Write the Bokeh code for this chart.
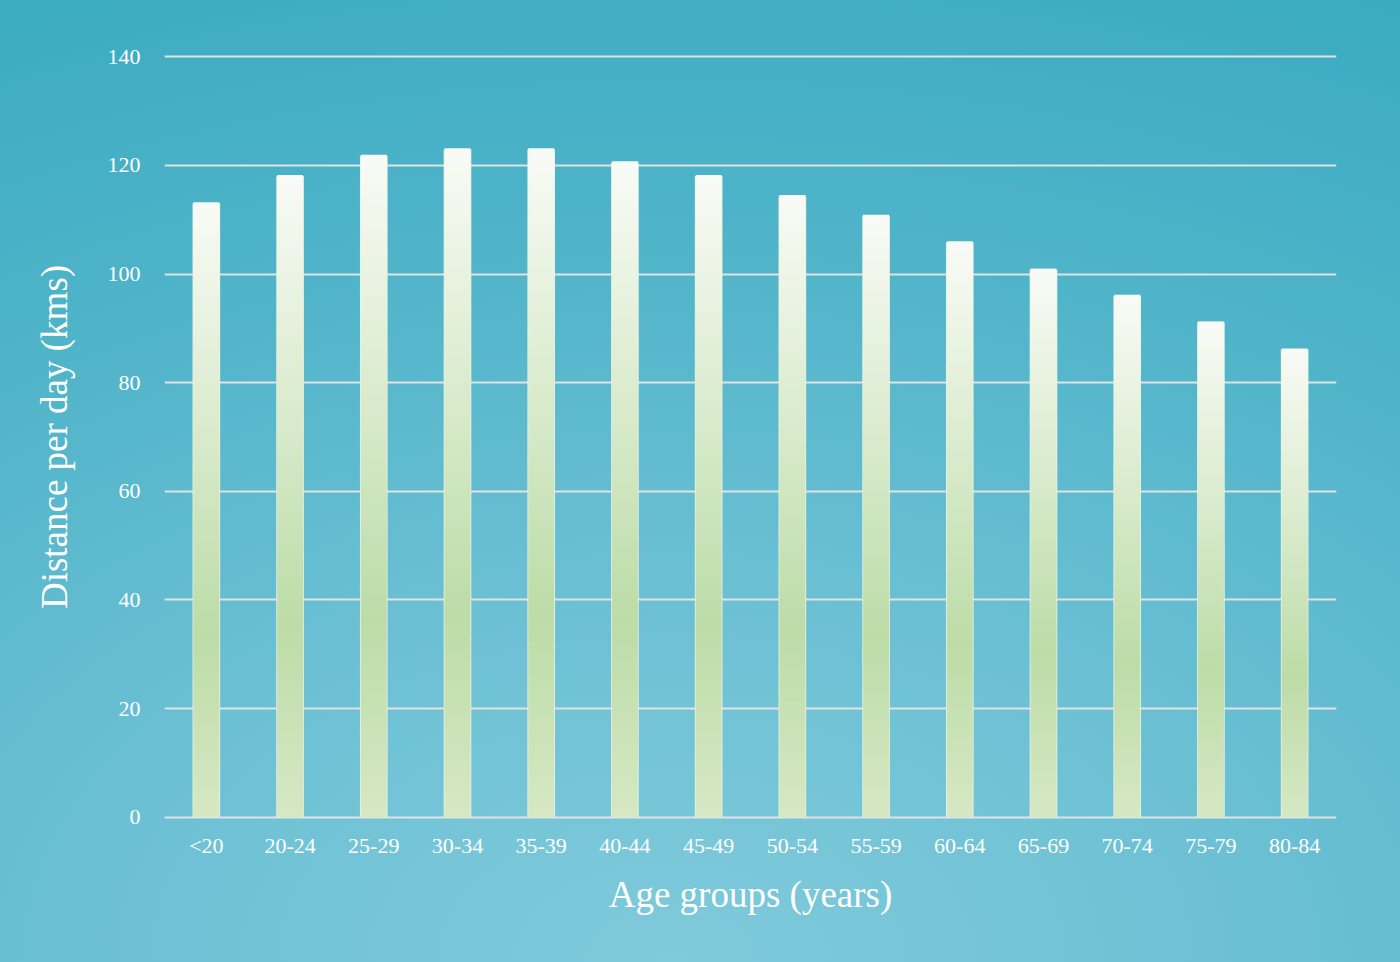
from bokeh.plotting import figure
from bokeh.embed import file_html
from bokeh.resources import INLINE
from bokeh.models import ColumnDataSource, FixedTicker

categories = ["<20", "20-24", "25-29", "30-34", "35-39", "40-44", "45-49",
              "50-54", "55-59", "60-64", "65-69", "70-74", "75-79", "80-84"]
distance = [113, 118, 121.7, 122.9, 122.9, 120.5, 118, 114.3, 110.7, 105.8, 100.8, 96, 91.1, 86.1]
y_ticks = [0, 20, 40, 60, 80, 100, 120, 140]

FONT = "Liberation Serif"

p = figure(x_range=categories, y_range=(-0.4, 140.4), width=1400, height=962,
           output_backend="svg", toolbar_location=None,
           min_border_left=164, min_border_right=64, min_border_top=54, min_border_bottom=143)
p.styles = {"background": "radial-gradient(ellipse 120% 110% at 48% 100%, #7fcadb 0%, #6cc0d4 35%, #52b5ca 65%, #3aabc1 100%)"}
p.background_fill_color = None
p.border_fill_color = None
p.outline_line_color = None

# gradient stops (fraction of bar height -> colour)
stops_f = [0.0, 0.3, 1.0]
stops_c = [(0xd6, 0xe8, 0xc4), (0xbc, 0xdc, 0xa7), (0xf9, 0xfb, 0xf6)]

def interp(f):
    for i in range(len(stops_f) - 1):
        if stops_f[i] <= f <= stops_f[i + 1]:
            t = (f - stops_f[i]) / (stops_f[i + 1] - stops_f[i])
            c = [int(round(a + (b - a) * t)) for a, b in zip(stops_c[i], stops_c[i + 1])]
            return "#%02x%02x%02x" % tuple(c)
    return "#%02x%02x%02x" % stops_c[-1]

N = 80
xs, bots, tops, cols = [], [], [], []
for cat, v in zip(categories, distance):
    for k in range(N):
        f0, f1 = k / N, (k + 1) / N
        xs.append(cat)
        bots.append(v * f0)
        tops.append(v * f1 + v * 0.002)
        cols.append(interp((f0 + f1) / 2))

p.ygrid.grid_line_color = "#e2e2e2"
p.ygrid.grid_line_width = 2
p.ygrid.level = "underlay"
p.xgrid.grid_line_color = None

p.vbar(x=categories, top=distance, width=0.33, fill_color="#e9f1e3", line_color=None)
src = ColumnDataSource(dict(x=xs, bottom=bots, top=tops, color=cols))
p.vbar(x="x", bottom="bottom", top="top", width=0.31, fill_color="color", line_color=None, source=src)

p.yaxis.ticker = FixedTicker(ticks=y_ticks)
for ax in (p.xaxis[0], p.yaxis[0]):
    ax.axis_line_color = None
    ax.major_tick_line_color = None
    ax.minor_tick_line_color = None
    ax.major_label_text_color = "white"
    ax.major_label_text_font = FONT
    ax.major_label_text_font_size = "22px"
    ax.axis_label_text_color = "white"
    ax.axis_label_text_font = FONT
    ax.axis_label_text_font_size = "37px"
    ax.axis_label_text_font_style = "normal"

p.xaxis.axis_label = "Age groups (years)"
p.yaxis.axis_label = "Distance per day (kms)"
p.xaxis.major_label_standoff = 7
p.yaxis.major_label_standoff = 18
p.xaxis.axis_label_standoff = 13
p.yaxis.axis_label_standoff = 30

open("out.html", "w").write(file_html(p, INLINE))
